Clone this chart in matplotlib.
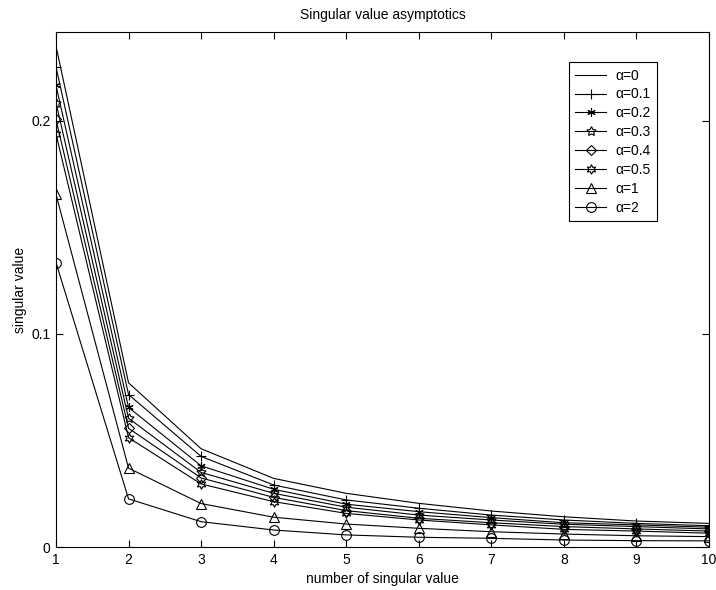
import numpy as np
import matplotlib.pyplot as plt

plt.rcParams['font.family'] = ['Liberation Sans', 'DejaVu Sans']

k = np.arange(1, 11)

# singular values, one list per alpha
s_a0 = [0.2350, 0.0771, 0.0462, 0.0323, 0.0253, 0.0206, 0.0170, 0.0143, 0.0123, 0.0112]
s_a01 = [0.2252, 0.0716, 0.0426, 0.0292, 0.0222, 0.0183, 0.0151, 0.0128, 0.0112, 0.0101]
s_a02 = [0.2166, 0.0656, 0.0382, 0.0272, 0.0202, 0.0167, 0.0139, 0.0115, 0.0105, 0.0094]
s_a03 = [0.2084, 0.0605, 0.0351, 0.0253, 0.0188, 0.0151, 0.0128, 0.0108, 0.0097, 0.0086]
s_a04 = [0.2006, 0.0558, 0.0325, 0.0234, 0.0172, 0.0136, 0.0115, 0.0097, 0.0086, 0.0076]
s_a05 = [0.1938, 0.0514, 0.0297, 0.0214, 0.0159, 0.0128, 0.0105, 0.0084, 0.0076, 0.0066]
s_a1 = [0.1655, 0.0371, 0.0205, 0.0141, 0.0109, 0.0089, 0.0073, 0.0062, 0.0054, 0.0050]
s_a2 = [0.1335, 0.0227, 0.0120, 0.0081, 0.0058, 0.0047, 0.0042, 0.0034, 0.0031, 0.0030]

labels = ['\u03b1=0', '\u03b1=0.1', '\u03b1=0.2', '\u03b1=0.3',
          '\u03b1=0.4', '\u03b1=0.5', '\u03b1=1', '\u03b1=2']
series = [s_a0, s_a01, s_a02, s_a03, s_a04, s_a05, s_a1, s_a2]
markers = [None, '+', (6, 2, 0), (5, 1, 0), 'D', (6, 1, 0), '^', 'o']
msizes = [0, 7, 6, 7, 5.5, 7, 7, 7]

fig = plt.figure(figsize=(7.16, 5.90), dpi=100)
ax = fig.add_axes([0.0782, 0.0724, 0.912, 0.8734])

for y, lab, m, ms in zip(series, labels, markers, msizes):
    ax.plot(k, y, color='k', lw=0.8, marker=m, ms=ms, mfc='none',
            mec='k', mew=0.8, label=lab)

ax.set_xlim(1, 10)
ax.set_ylim(0, 0.2416)
ax.set_xticks(k)
ax.set_yticks([0, 0.1, 0.2])
ax.set_yticklabels(['0', '0.1', '0.2'])
ax.tick_params(direction='in', length=5, width=0.8, labelsize=10,
               top=True, right=True, pad=4)
for sp in ax.spines.values():
    sp.set_linewidth(0.8)

ax.set_xlabel('number of singular value', fontsize=10, labelpad=4)
ax.set_ylabel('singular value', fontsize=10, labelpad=3)
ax.set_title('Singular value asymptotics', fontsize=10, pad=9)

leg = ax.legend(loc='upper left', bbox_to_anchor=(0.786, 0.941), fontsize=10,
                frameon=True, fancybox=False, edgecolor='k', framealpha=1,
                handlelength=2.2, handletextpad=0.65, labelspacing=0.35,
                borderpad=0.45, borderaxespad=0)
leg.get_frame().set_linewidth(0.8)

fig.savefig('out.png', dpi=100)
